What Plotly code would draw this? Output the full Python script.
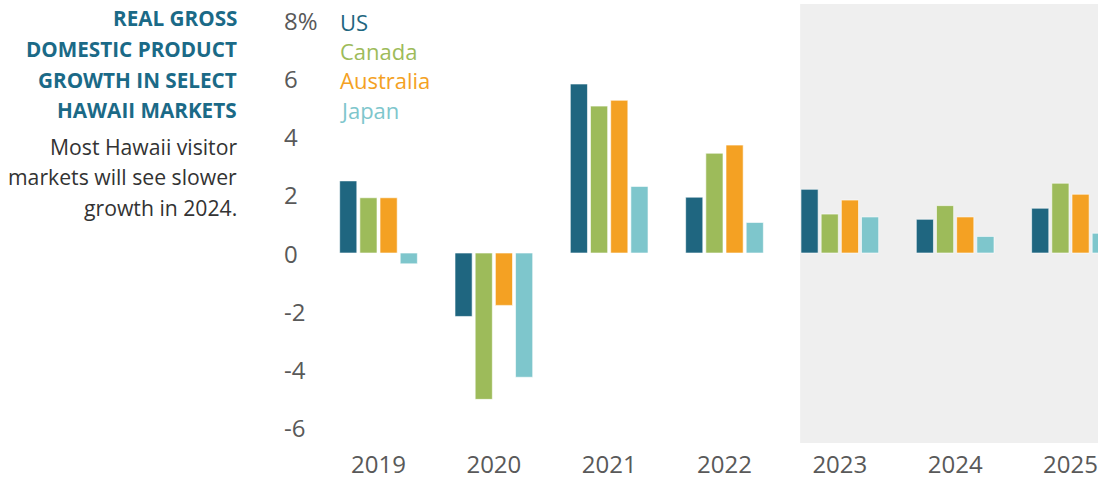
import plotly.graph_objects as go

years = ["2019", "2020", "2021", "2022", "2023", "2024", "2025"]
us = [2.48, -2.18, 5.81, 1.92, 2.19, 1.16, 1.54]
canada = [1.90, -5.03, 5.05, 3.43, 1.34, 1.63, 2.40]
australia = [1.90, -1.80, 5.25, 3.71, 1.82, 1.24, 2.02]
japan = [-0.37, -4.27, 2.29, 1.05, 1.24, 0.57, 0.68]
series_names = ["US", "Canada", "Australia", "Japan"]
series_colors = ["#1f6680", "#9dbb5a", "#f4a123", "#7ec6cc"]
y_ticks = [8, 6, 4, 2, 0, -2, -4, -6]
y_tick_text = ["8%", "6", "4", "2", "0", "-2", "-4", "-6"]
title_lines = ["REAL GROSS", "DOMESTIC PRODUCT", "GROWTH IN SELECT", "HAWAII MARKETS"]
body_lines = ["Most Hawaii visitor", "markets will see slower", "growth in 2024."]
forecast_start = 3.656

W, H = 1098, 479
L, R, T, B = 323, 0, 4, 36
pw, ph = W - L - R, H - T - B

def px_x(p):
    return (p - L) / pw

def px_y(p):
    return (H - B - p) / ph

xs = list(range(len(years)))
fig = go.Figure()
for name, vals, col in zip(series_names, [us, canada, australia, japan], series_colors):
    fig.add_trace(go.Bar(x=xs, y=vals, name=name, marker_color=col,
                         marker_line=dict(color="rgba(255,255,255,0.6)", width=1),
                         showlegend=False))

fig.add_shape(type="rect", xref="x", yref="paper", x0=forecast_start, x1=7,
              y0=0, y1=1, fillcolor="#efefef", line_width=0, layer="below")

font = "Open Sans"
ann = []
for v, t in zip(y_ticks, y_tick_text):
    ann.append(dict(x=px_x(282), xref="paper", y=v, yref="y", text=t,
                    xanchor="left", yanchor="middle", showarrow=False,
                    font=dict(family=font, size=24, color="#595959")))
leg_y = [22, 51, 80, 110]
for name, col, yy in zip(series_names, series_colors, leg_y):
    ann.append(dict(x=px_x(338), xref="paper", y=px_y(yy), yref="paper", text=name,
                    xanchor="left", yanchor="middle", showarrow=False,
                    font=dict(family=font, size=22, color=col)))
for line, yy in zip(title_lines, [18, 49, 80, 110]):
    ann.append(dict(x=px_x(239), xref="paper", y=px_y(yy), yref="paper",
                    text="<b>" + line + "</b>", xanchor="right", yanchor="middle",
                    showarrow=False, font=dict(family=font, size=20.7, color="#1b6a87")))
for line, yy in zip(body_lines, [146, 176, 207]):
    ann.append(dict(x=px_x(239), xref="paper", y=px_y(yy), yref="paper",
                    text=line, xanchor="right", yanchor="middle",
                    showarrow=False, font=dict(family=font, size=21.2, color="#333333")))

fig.update_layout(
    width=W, height=H,
    margin=dict(l=L, r=R, t=T, b=B),
    paper_bgcolor="white", plot_bgcolor="white",
    barmode="group", bargap=0.30, bargroupgap=0.15,
    annotations=ann,
    xaxis=dict(range=[-0.4814, 6.2386], tickvals=xs, ticktext=years, showgrid=False,
               zeroline=False, showline=False, ticks="", ticklabelstandoff=5,
               tickfont=dict(family=font, size=24, color="#595959")),
    yaxis=dict(range=[-6.53, 8.56], showticklabels=False, showgrid=False,
               zeroline=False, showline=False, ticks=""),
)
fig.write_html("out.html", config={"displayModeBar": False},
               post_script="document.body.style.margin='0';document.body.style.overflow='hidden';")
